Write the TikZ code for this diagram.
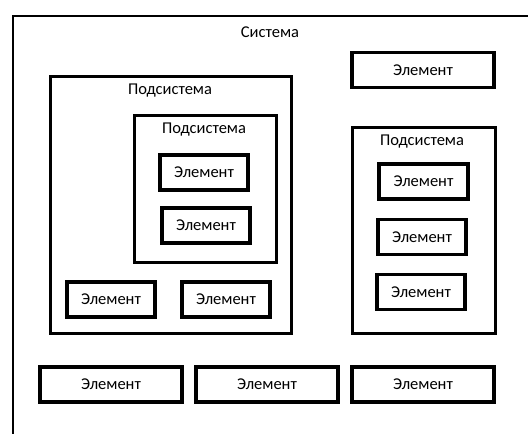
\documentclass[tikz,border=0pt]{standalone}
\usepackage{fontspec}
\setmainfont{Carlito}
\usetikzlibrary{shadows}
\begin{document}
\begin{tikzpicture}[x=1pt,y=-1pt,
  box/.style={draw=black, fill=white, inner sep=0pt, line width=#1},
  box/.default=2.6pt,
  elem/.style={box=3.2pt, minimum height=35pt, font=\fontsize{16.5}{19}\selectfont,
    drop shadow={shadow xshift=1.5pt, shadow yshift=-1.5pt, opacity=0.22}},
  small/.style={elem, minimum width=88pt},
  wide/.style={elem, minimum width=142pt},
  caption/.style={font=\fontsize{16.5}{19}\selectfont, inner sep=0pt}]
  \useasboundingbox[fill=white] (0,0) rectangle (528,434);
  \clip (0,0) rectangle (528,434);

  % the whole system (runs past the right and bottom edges)
  \node[box=2.2pt, minimum width=560pt, minimum height=460pt, anchor=north west] (sys) at (12,15) {};
  \node[caption] (sysl) at (270,32) {Система};

  % left subsystem with a nested subsystem
  \node[box, minimum width=241pt, minimum height=257pt, anchor=north west] (subA) at (49,75) {};
  \node[caption] (subAl) at (170,91) {Подсистема};
  \node[box, minimum width=142pt, minimum height=147pt, anchor=north west] (subB) at (133,114) {};
  \node[caption] (subBl) at (204,130) {Подсистема};
  \node[small] (b1) at (204,172.5) {Элемент};
  \node[small] (b2) at (206,225.5) {Элемент};
  \node[small] (a1) at (111,299.5) {Элемент};
  \node[small] (a2) at (226,299.5) {Элемент};

  % right subsystem
  \node[box, minimum width=143pt, minimum height=206pt, anchor=north west] (subC) at (351,126) {};
  \node[caption] (subCl) at (422,142) {Подсистема};
  \node[small, minimum width=89pt] (c1) at (423.5,181.5) {Элемент};
  \node[small] (c2) at (422,237) {Элемент};
  \node[small] (c3) at (421,292) {Элемент};

  % standalone elements of the system
  \node[wide] (top) at (423,70) {Элемент};
  \node[wide] (d1) at (111,384.5) {Элемент};
  \node[wide] (d2) at (267,384.5) {Элемент};
  \node[wide] (d3) at (423,384.5) {Элемент};
\end{tikzpicture}
\end{document}
